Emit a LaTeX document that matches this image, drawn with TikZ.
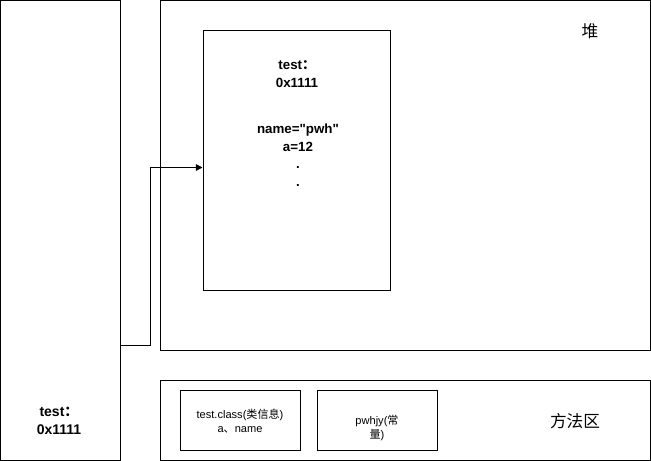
\documentclass[tikz,border=0pt]{standalone}
\usepackage{fontspec}
\setmainfont{Liberation Sans}[Ligatures=TeXOff]
\newfontfamily\cjk{Noto Sans CJK SC}
\usetikzlibrary{positioning,arrows.meta}

\begin{document}
\begin{tikzpicture}
	[x=0.75pt,y=-0.75pt,line width=0.75pt,
	box/.style={draw,line width=0.75pt,inner sep=0pt,fill=white},
	bold txt/.style={font=\fontsize{10}{13.5}\selectfont\bfseries,align=center},
	small txt/.style={font=\fontsize{8.3}{10}\selectfont,align=center},
	big txt/.style={font=\fontsize{12.5}{14}\selectfont\cjk},
	arr/.style={-{Triangle[length=5pt,width=5pt]}}]
	\useasboundingbox (0,0) rectangle (651,461);
	\node[box,minimum width=90pt,minimum height=345pt] (stack) at (60.4,230.4) {};
	\node[box,minimum width=367.5pt,minimum height=262.5pt] (heap) at (405.5,175.4) {};
	\node[box,minimum width=140.25pt,minimum height=195pt] (obj) at (296.5,160.5) {};
	\node[box,minimum width=367.5pt,minimum height=60pt] (method) at (405.5,420.5) {};
	\node[box,minimum width=90pt,minimum height=45pt] (cls) at (240.5,420.5) {};
	\node[box,minimum width=90pt,minimum height=45pt] (const) at (377.5,420.5) {};
	\node[bold txt,font=\fontsize{10.5}{13.5}\selectfont\bfseries] (ref) at (59,421) {test{\cjk ：}\\0x1111};
	\node[bold txt] (addr) at (297,74) {test{\cjk ：}\\0x1111};
	\node[bold txt,font=\fontsize{10}{13.2}\selectfont\bfseries] (fields) at (298,155) {name="pwh"\\a=12\\.\\.};
	\node[big txt] (heaplbl) at (590,31) {堆};
	\node[big txt] (methodlbl) at (575,421) {方法区};
	\node[small txt] (clsinfo) at (240,421) {test.class({\cjk 类信息})\\a{\cjk 、}name};
	\node[small txt] (constinfo) at (377,428) {pwhjy({\cjk 常}\\{\cjk 量})};
	\coordinate (out) at (120.5,345.5);
	\draw[arr] (out) -- (150.5,345.5) |- ([yshift=-5.25pt]obj.west);
\end{tikzpicture}
\end{document}
